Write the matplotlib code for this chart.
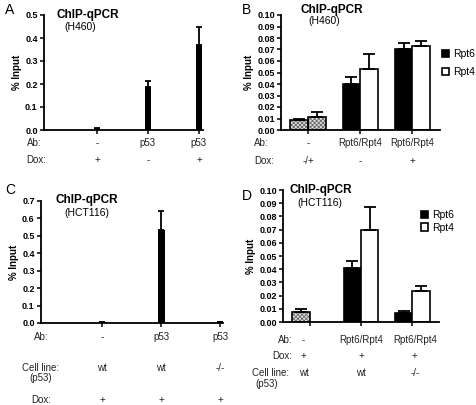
import matplotlib

matplotlib.use("Agg")
import matplotlib.pyplot as plt

plt.rcParams["font.family"] = ["Liberation Sans", "DejaVu Sans"]
plt.rcParams["hatch.linewidth"] = 0.6

# panel A: p53 ChIP in H460
a_ab = ["-", "p53", "p53"]
a_dox = ["+", "-", "+"]
a_val = [0.004, 0.188, 0.370]
a_err = [0.003, 0.026, 0.076]

# panel B: Rpt6 / Rpt4 ChIP in H460
b_ab = ["-", "Rpt6/Rpt4", "Rpt6/Rpt4"]
b_dox = ["-/+", "-", "+"]
b_rpt6 = [0.009, 0.040, 0.070]
b_rpt6_err = [0.0008, 0.0062, 0.006]
b_rpt4 = [0.0115, 0.053, 0.073]
b_rpt4_err = [0.0045, 0.013, 0.004]

# panel C: p53 ChIP in HCT116
c_ab = ["-", "p53", "p53"]
c_cell = ["wt", "wt", "-/-"]
c_dox = ["+", "+", "+"]
c_val = [0.005, 0.536, 0.003]
c_err = [0.003, 0.106, 0.002]

# panel D: Rpt6 / Rpt4 ChIP in HCT116 (no Rpt4 bar in first group)
d_ab = ["-", "Rpt6/Rpt4", "Rpt6/Rpt4"]
d_dox = ["+", "+", "+"]
d_cell = ["wt", "wt", "-/-"]
d_rpt6 = [0.0075, 0.0406, 0.0068]
d_rpt6_err = [0.0025, 0.0056, 0.0017]
d_rpt4 = [None, 0.070, 0.0236]
d_rpt4_err = [None, 0.0175, 0.0037]

W, H = 477, 405
TXT = "#222222"


def add_axes(fig, left, right, top, bottom):
    return fig.add_axes([left / W, 1 - bottom / H, (right - left) / W, (bottom - top) / H])


def style(ax, ylim, yticks, fmt):
    for s in ("top", "right"):
        ax.spines[s].set_visible(False)
    for s in ("left", "bottom"):
        ax.spines[s].set_linewidth(1.3)
    ax.set_ylim(*ylim)
    ax.set_yticks(yticks)
    ax.set_yticklabels([fmt.format(t) for t in yticks], fontsize=6.5, fontweight="bold")
    ax.set_xticks(range(3))
    ax.set_xticklabels([])
    ax.tick_params(axis="both", direction="out", length=3, width=1.1, pad=1.5)
    ax.set_ylabel("% Input", fontsize=7, fontweight="bold", labelpad=2)


def hatched(ax, x, h, w):
    ax.bar(x, h, w, color="#e0e0e0", edgecolor="#6a6a6a", hatch="xxxxxxxx", linewidth=0, zorder=2)
    ax.bar(x, h, w, facecolor="none", edgecolor="black", linewidth=1.2, zorder=3)


def err(ax, x, top, e, cap):
    ax.errorbar(x, top, yerr=[[0] * len(x), e], fmt="none", ecolor="black",
                elinewidth=1.3, capsize=cap, capthick=1.3, zorder=4)


def title(ax, x, y, cell):
    ax.text(x, y, "ChIP-qPCR", transform=ax.transAxes, fontsize=8.5, fontweight="bold")
    ax.text(x + 0.05, y - 0.1, f"({cell})", transform=ax.transAxes, fontsize=7.5)


def row(ax, y, name, labels, xs, name_x, ha="left"):
    tr = ax.get_xaxis_transform()
    ax.text(name_x, y, name, transform=ax.transAxes, fontsize=7, color=TXT, ha=ha, va="center")
    for x, lab in zip(xs, labels):
        ax.text(x, y, lab, transform=tr, fontsize=7, color=TXT, ha="center", va="center")


fig = plt.figure(figsize=(W / 100, H / 100), dpi=100)
xs = list(range(3))

# ---- A ----
ax = add_axes(fig, 44, 203, 15, 130)
ax.set_xlim(-1.04, 2.08)
ax.bar(xs, a_val, 0.13, color="black", zorder=2)
err(ax, xs, a_val, a_err, 2.5)
style(ax, (0, 0.5), [0, 0.1, 0.2, 0.3, 0.4, 0.5], "{:.1f}")
title(ax, 0.08, 0.97, "H460")
row(ax, -0.11, "Ab:", a_ab, xs, -0.11)
row(ax, -0.26, "Dox:", a_dox, xs, -0.11)
fig.text(5 / W, 1 - 10 / H, "A", fontsize=10, va="center")

# ---- B ----
bw = 0.34
ax = add_axes(fig, 281, 440, 15, 130)
ax.set_xlim(-0.52, 2.53)
hatched(ax, -bw / 2, b_rpt6[0], bw)
hatched(ax, bw / 2, b_rpt4[0], bw)
r6 = ax.bar([x - bw / 2 for x in xs[1:]], b_rpt6[1:], bw, color="black", edgecolor="black",
            linewidth=1.2, zorder=2, label="Rpt6")
r4 = ax.bar([x + bw / 2 for x in xs[1:]], b_rpt4[1:], bw, color="white", edgecolor="black",
            linewidth=1.2, zorder=2, label="Rpt4")
err(ax, [x - bw / 2 for x in xs], b_rpt6, b_rpt6_err, 4.5)
err(ax, [x + bw / 2 for x in xs], b_rpt4, b_rpt4_err, 4.5)
style(ax, (0, 0.1), [i / 100 for i in range(11)], "{:.2f}")
title(ax, 0.12, 1.02, "H460")
row(ax, -0.11, "Ab:", b_ab, xs, -0.17)
row(ax, -0.27, "Dox:", b_dox, xs, -0.17)
ax.legend(handles=[r6, r4], loc="upper left", bbox_to_anchor=(442 / W, 1 - 49 / H),
          bbox_transform=fig.transFigure, frameon=False, fontsize=7.5,
          handlelength=0.7, handleheight=0.7, handletextpad=0.35, labelspacing=0.75,
          borderpad=0, borderaxespad=0)
fig.text(242 / W, 1 - 10 / H, "B", fontsize=10, va="center")

# ---- C ----
ax = add_axes(fig, 41, 223, 201, 323)
ax.set_xlim(-1.04, 2.05)
ax.bar(xs, c_val, 0.12, color="black", zorder=2)
err(ax, xs, c_val, c_err, 2.5)
style(ax, (0, 0.7), [i / 10 for i in range(8)], "{:.1f}")
title(ax, 0.08, 0.98, "HCT116")
row(ax, -0.115, "Ab:", c_ab, xs, 0.0, ha="center")
row(ax, -0.37, "Cell line:", c_cell, xs, 0.0, ha="center")
ax.text(0.0, -0.45, "(p53)", transform=ax.transAxes, fontsize=7, color=TXT, ha="center", va="center")
row(ax, -0.63, "Dox:", c_dox, xs, 0.0, ha="center")
fig.text(5 / W, 1 - 190 / H, "C", fontsize=10, va="center")

# ---- D ----
ax = add_axes(fig, 283, 439, 190, 322)
ax.set_xlim(-0.52, 2.52)
hatched(ax, -bw / 2, d_rpt6[0], bw)
r6 = ax.bar([x - bw / 2 for x in xs[1:]], d_rpt6[1:], bw, color="black", edgecolor="black",
            linewidth=1.2, zorder=2, label="Rpt6")
r4 = ax.bar([x + bw / 2 for x in xs[1:]], d_rpt4[1:], bw, color="white", edgecolor="black",
            linewidth=1.2, zorder=2, label="Rpt4")
err(ax, [x - bw / 2 for x in xs], d_rpt6, d_rpt6_err, 4.5)
err(ax, [x + bw / 2 for x in xs[1:]], d_rpt4[1:], d_rpt4_err[1:], 4.5)
style(ax, (0, 0.1), [i / 100 for i in range(11)], "{:.2f}")
title(ax, 0.04, 0.98, "HCT116")
lab_x = [-bw / 2 + 0.05, 1.0, 2.05]
row(ax, -0.14, "Ab:", d_ab, lab_x, 0.06, ha="right")
row(ax, -0.26, "Dox:", d_dox, lab_x, 0.06, ha="right")
row(ax, -0.39, "Cell line:", d_cell, lab_x, 0.04, ha="right")
ax.text(-0.03, -0.47, "(p53)", transform=ax.transAxes, fontsize=7, color=TXT, ha="right", va="center")
ax.legend(handles=[r6, r4], loc="upper left", bbox_to_anchor=(421 / W, 1 - 210 / H),
          bbox_transform=fig.transFigure, frameon=False, fontsize=7.5,
          handlelength=0.7, handleheight=0.7, handletextpad=0.35, labelspacing=0.25,
          borderpad=0, borderaxespad=0)
fig.text(242 / W, 1 - 196 / H, "D", fontsize=10, va="center")

fig.savefig("out.png", dpi=100)
